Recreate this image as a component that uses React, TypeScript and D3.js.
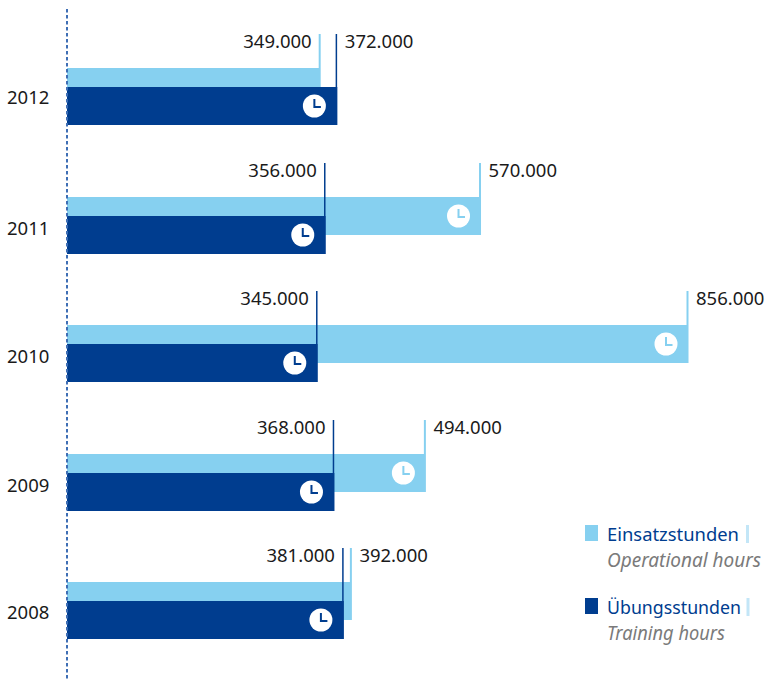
import React from "react";
import * as d3 from "d3";

// Hours per year, newest first
const years = ["2012", "2011", "2010", "2009", "2008"];
const operationalHours = [349000, 570000, 856000, 494000, 392000];
const trainingHours = [372000, 356000, 345000, 368000, 381000];
const operationalLabels = ["349.000", "570.000", "856.000", "494.000", "392.000"];
const trainingLabels = ["372.000", "356.000", "345.000", "368.000", "381.000"];

const LIGHT = "#86d0f0";
const DARK = "#003d8f";
const FONT = "'Noto Sans', sans-serif";

const WIDTH = 766;
const HEIGHT = 679;

const x = d3.scaleLinear().domain([0, 856000]).range([67.5, 688.5]);
const rowTop = d3.scalePoint<string>().domain(years).range([68, 582]);
const BAR_H = 38;
const STEP_DOWN = 19;
const LEADER_UP = 34;
const YEAR_BASELINE = [17, 18.5, 18.5, 18.5, 17.5];

function Clock({ cx, cy, hand }: { cx: number; cy: number; hand: string }) {
  return (
    <g>
      <circle cx={cx} cy={cy} r={11.5} fill="#fff" />
      <path
        d={`M${cx},${cy - 7}V${cy + 1}H${cx + 6.5}`}
        fill="none"
        stroke={hand}
        strokeWidth={2}
      />
    </g>
  );
}

function Row({ i }: { i: number }) {
  const year = years[i];
  const top = Math.round(rowTop(year)!);
  const xOp = x(operationalHours[i]);
  const xTr = x(trainingHours[i]);
  const opLonger = xOp > xTr;
  const leaderTop = top - LEADER_UP;
  const labelY = leaderTop + 14;
  const darkTop = top + STEP_DOWN;
  const clockOnLight = xOp - xTr > 50;

  return (
    <g>
      <rect x={67} y={top} width={xOp - 67} height={BAR_H} fill={LIGHT} />
      <rect x={67} y={darkTop} width={xTr - 67} height={BAR_H} fill={DARK} />
      <line x1={xOp - 1} x2={xOp - 1} y1={leaderTop} y2={top} stroke={LIGHT} strokeWidth={2} />
      <line x1={xTr - 1} x2={xTr - 1} y1={leaderTop} y2={darkTop} stroke={DARK} strokeWidth={1.5} />
      <text
        x={(opLonger ? xOp : xTr) + 7.5}
        y={labelY}
        fontSize={18.5}
        fontFamily={FONT}
        fill="#1a1a1a"
      >
        {opLonger ? operationalLabels[i] : trainingLabels[i]}
      </text>
      <text
        x={(opLonger ? xTr : xOp) - 9}
        y={labelY}
        fontSize={18.5}
        fontFamily={FONT}
        fill="#1a1a1a"
        textAnchor="end"
      >
        {opLonger ? trainingLabels[i] : operationalLabels[i]}
      </text>
      <text x={7} y={darkTop + YEAR_BASELINE[i]} fontSize={18.5} fontFamily={FONT} fill="#1a1a1a">
        {year}
      </text>
      <Clock cx={xTr - 23} cy={darkTop + BAR_H / 2} hand={DARK} />
      {clockOnLight && <Clock cx={xOp - 22.5} cy={top + BAR_H / 2} hand={LIGHT} />}
    </g>
  );
}

function LegendEntry({
  y,
  color,
  de,
  en,
  deWidth,
  enWidth,
  barX,
}: {
  y: number;
  color: string;
  de: string;
  en: string;
  deWidth: number;
  enWidth: number;
  barX: number;
}) {
  return (
    <g fontFamily={FONT}>
      <rect x={585} y={y} width={13} height={16} fill={color} />
      <text
        x={607}
        y={y + 16}
        fontSize={18.5}
        fill={DARK}
        textLength={deWidth}
        lengthAdjust="spacingAndGlyphs"
      >
        {de}
      </text>
      <rect x={barX} y={y} width={3} height={18} fill="#c3e6f7" />
      <text
        x={607}
        y={y + 42}
        fontSize={19}
        fontStyle="italic"
        fill="#7a7a7a"
        textLength={enWidth}
        lengthAdjust="spacingAndGlyphs"
      >
        {en}
      </text>
    </g>
  );
}

export default function App() {
  return (
    <svg
      width={WIDTH}
      height={HEIGHT}
      viewBox={`0 0 ${WIDTH} ${HEIGHT}`}
      style={{ position: "absolute", left: 0, top: 0, display: "block" }}
    >
      {years.map((_, i) => (
        <Row key={years[i]} i={i} />
      ))}
      <line
        x1={67}
        x2={67}
        y1={9}
        y2={HEIGHT}
        stroke="#3f6fb5"
        strokeWidth={2}
        strokeDasharray="3.5 2.5"
      />
      <LegendEntry
        y={525}
        color={LIGHT}
        de="Einsatzstunden"
        en="Operational hours"
        deWidth={132}
        enWidth={154}
        barX={746}
      />
      <LegendEntry
        y={598}
        color={DARK}
        de="Übungsstunden"
        en="Training hours"
        deWidth={134}
        enWidth={118}
        barX={746.5}
      />
    </svg>
  );
}
